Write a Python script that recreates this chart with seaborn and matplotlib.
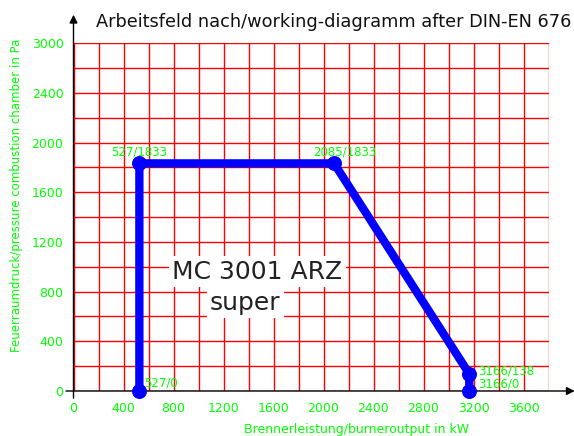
import matplotlib
matplotlib.use("Agg")
import matplotlib.pyplot as plt
import seaborn as sns
import numpy as np
import pandas as pd

# Data
power_kw = [527, 527, 2085, 3166, 3166]
pressure_pa = [0, 1833, 1833, 138, 0]
point_labels = ["527/0", "527/1833", "2085/1833", "3166/138", "3166/0"]
x_tick_values = list(range(0, 3801, 200))
x_tick_labels = [str(v) if v % 400 == 0 and v <= 3600 else "" for v in x_tick_values]
y_tick_values = list(range(0, 2801, 200))
# the drawing labels its top grid line "3000"
y_tick_labels = [str(v) if v % 400 == 0 and v <= 2400 else "" for v in y_tick_values]
y_tick_labels[-1] = "3000"
title = "Arbeitsfeld nach/working-diagramm after DIN-EN 676"
xlabel = "Brennerleistung/burneroutput in kW"
ylabel = "Feuerraumdruck/pressure combustion chamber in Pa"
model = "MC 3001 ARZ"
variant = "super"

GREEN = "#00ff00"
RED = "#ff0000"
BLUE = "#0000ff"

sns.set_theme(style="white")
plt.rcParams["font.family"] = ["DejaVu Sans"]

W, H = 574, 436
fig = plt.figure(figsize=(W / 100, H / 100), dpi=100)
x0, x1 = 73.5, 548.5
y0, y1 = 391.0, 43.3
ax = fig.add_axes([x0 / W, 1 - y0 / H, (x1 - x0) / W, (y0 - y1) / H])
ax.set_xlim(0, 3800)
ax.set_ylim(0, 2800)

for s in ax.spines.values():
    s.set_visible(False)

ax.set_xticks(x_tick_values)
ax.set_xticklabels(x_tick_labels)
ax.set_yticks(y_tick_values)
ax.set_yticklabels(y_tick_labels)
ax.tick_params(axis="both", which="major", length=5.2, width=1.0, color=RED,
               labelcolor=GREEN, labelsize=9, direction="out")
ax.tick_params(axis="y", pad=2)
ax.tick_params(axis="x", pad=3)
ax.grid(True, color=RED, linewidth=1.0)
ax.set_axisbelow(True)

# axes lines with arrows
ax.annotate("", xy=(4010, 0), xytext=(-60, 0), xycoords="data",
            arrowprops=dict(arrowstyle="-|>", color="black", lw=1.0,
                            mutation_scale=12, shrinkA=0, shrinkB=0),
            annotation_clip=False)
ax.annotate("", xy=(0, 3030), xytext=(0, -58), xycoords="data",
            arrowprops=dict(arrowstyle="-|>", color="black", lw=1.0,
                            mutation_scale=12, shrinkA=0, shrinkB=0),
            annotation_clip=False)

df = pd.DataFrame({"power": power_kw, "pressure": pressure_pa})
sns.lineplot(data=df, x="power", y="pressure", sort=False, estimator=None,
             color=BLUE, linewidth=6, marker="o", markersize=10,
             markeredgecolor=BLUE, markerfacecolor=BLUE, ax=ax, zorder=5,
             clip_on=False)

# point labels, offsets in pixels (converted to points at dpi 100)
label_offsets = {0: (5, 8), 1: (-28, 11), 2: (-21, 11), 3: (9, 3), 4: (9, 7)}
for i, (px, py, lab) in enumerate(zip(power_kw, pressure_pa, point_labels)):
    dx, dy = label_offsets[i]
    ax.annotate(lab, xy=(px, py), xytext=(dx * 0.72, dy * 0.72), textcoords="offset points",
                color=GREEN, fontsize=8.5, ha="left", va="center", zorder=6,
                annotation_clip=False)

ax.text(1470, 960, model, fontsize=18, color="#222222", ha="center", va="center",
        zorder=4, bbox=dict(facecolor="white", edgecolor="none", pad=2.5))
ax.text(1375, 712, variant, fontsize=18, color="#222222", ha="center", va="center",
        zorder=4, bbox=dict(facecolor="white", edgecolor="none", pad=2.5))

fig.text(334 / W, 1 - 22 / H, title, fontsize=12.8, color="#111111", ha="center", va="center")
fig.text(357 / W, 1 - 429 / H, xlabel, fontsize=9, color=GREEN, ha="center", va="center")
fig.text(17 / W, 1 - 195 / H, ylabel, fontsize=8.5, color=GREEN, ha="center", va="center", rotation=90)

ax.set_xlabel("")
ax.set_ylabel("")
fig.savefig("out.png", dpi=100)
